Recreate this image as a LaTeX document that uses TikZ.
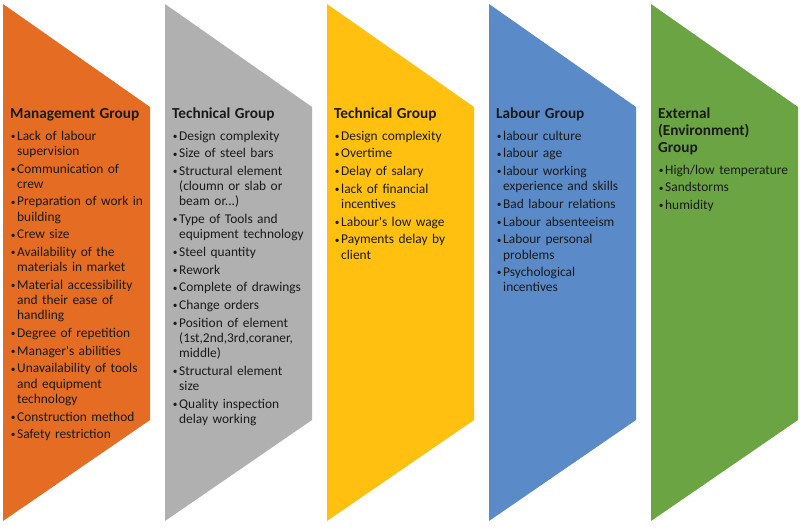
\documentclass[tikz,border=0pt]{standalone}
\usepackage{fontspec}
\setmainfont{Carlito}[Ligatures=TeXOff]
\definecolor{cOrange}{HTML}{E46C23}
\definecolor{cGray}{HTML}{B0B0B0}
\definecolor{cYellow}{HTML}{FFC010}
\definecolor{cBlue}{HTML}{5A8BC8}
\definecolor{cGreen}{HTML}{6BA543}
\definecolor{cText}{HTML}{1A1A1A}
\newcommand\nl{\hfil\break}
\newcommand\itm[1]{\hangindent=7pt\hangafter=1\noindent\hbox to 7pt{\hskip0.6pt\raisebox{0.8pt}{\scalebox{0.7}{\textbullet}}\hss}#1\par}
\newcommand\grouptitle[1]{\noindent{\fontsize{15.3}{17}\selectfont\bfseries\strut #1\par}\vspace{4.3pt}}
\tikzset{
  colbox/.style={anchor=north west, inner sep=0pt, text width=150pt, align=left,
    text=cText, font=\fontsize{13.4}{15.2}\selectfont},
}
\newcommand\chevron[2]{\fill[#2] (#1,4) -- (#1+147,107) -- (#1+147,420) -- (#1,521) -- cycle;}
\begin{document}
\begin{tikzpicture}[x=1pt,y=-1pt]
\useasboundingbox (0,0) rectangle (800,527);
\fill[white] (0,0) rectangle (800,527);
\chevron{3}{cOrange}
\chevron{165}{cGray}
\chevron{327}{cYellow}
\chevron{489}{cBlue}
\chevron{651}{cGreen}

\node[colbox] (management) at (10,106) {\setlength\parskip{2.5pt}%
\grouptitle{Management Group}%
\itm{Lack of labour\nl supervision}
\itm{Communication of\nl crew}
\itm{Preparation of work in\nl building}
\itm{Crew size}
\itm{Availability of the\nl materials in market}
\itm{Material accessibility\nl and their ease of\nl handling}
\itm{Degree of repetition}
\itm{Manager's abilities}
\itm{Unavailability of tools\nl and equipment\nl technology}
\itm{Construction method}
\itm{Safety restriction}};

\node[colbox] (technical1) at (172,106) {\setlength\parskip{2.5pt}%
\grouptitle{Technical Group}%
\itm{Design complexity}
\itm{Size of steel bars}
\itm{Structural element\nl (cloumn or slab or\nl beam or...)}
\itm{Type of Tools and\nl equipment technology}
\itm{Steel quantity}
\itm{Rework}
\itm{Complete of drawings}
\itm{Change orders}
\itm{Position of element\nl (1st,2nd,3rd,coraner,\nl middle)}
\itm{Structural element\nl size}
\itm{Quality inspection\nl delay working}};

\node[colbox] (technical2) at (334,106) {\setlength\parskip{2.5pt}%
\grouptitle{Technical Group}%
\itm{Design complexity}
\itm{Overtime}
\itm{Delay of salary}
\itm{lack of financial\nl incentives}
\itm{Labour's low wage}
\itm{Payments delay by\nl client}};

\node[colbox] (labour) at (496,106) {\setlength\parskip{2.5pt}%
\grouptitle{Labour Group}%
\itm{labour culture}
\itm{labour age}
\itm{labour working\nl experience and skills}
\itm{Bad labour relations}
\itm{Labour absenteeism}
\itm{Labour personal\nl problems}
\itm{Psychological\nl incentives}};

\node[colbox] (external) at (658,106) {\setlength\parskip{2.5pt}%
\grouptitle{External\\(Environment)\\Group}%
\itm{High/low temperature}
\itm{Sandstorms}
\itm{humidity}};
\end{tikzpicture}
\end{document}
